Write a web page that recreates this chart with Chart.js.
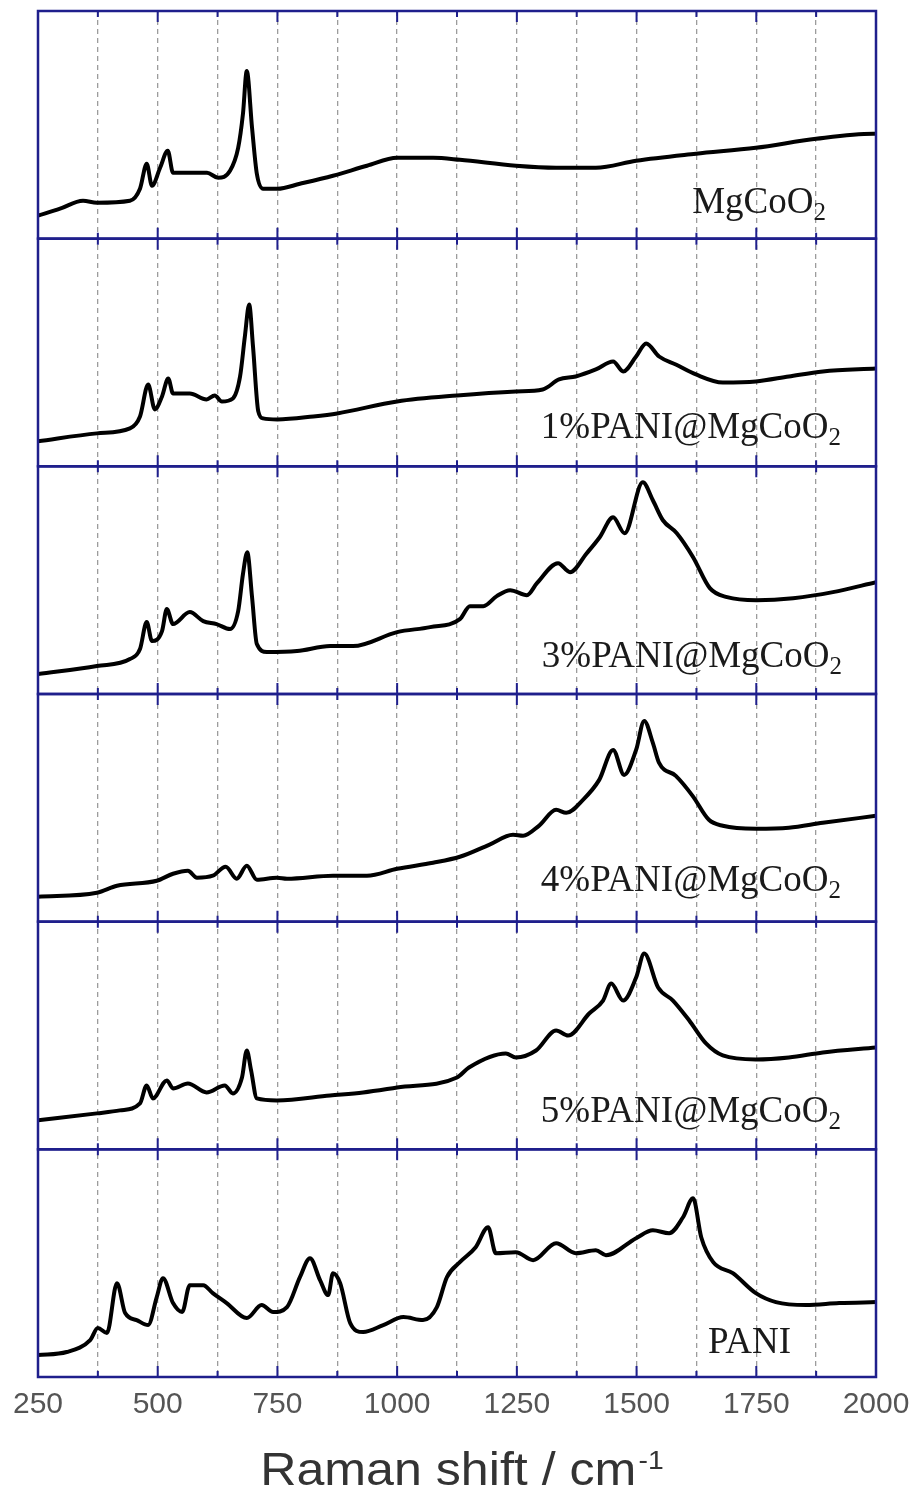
<!DOCTYPE html>
<html>
<head>
<meta charset="utf-8">
<script src="https://cdn.jsdelivr.net/npm/chart.js@4.4.0/dist/chart.umd.min.js"></script>
<style>
  html, body { margin: 0; padding: 0; background: #fff; }
  canvas { display: block; }
</style>
</head>
<body>
<canvas id="myChart" width="916" height="1493" style="width:916px;height:1493px"></canvas>
<script>
// Raman spectra, intensity in arbitrary units
var tickLabels = [250, 500, 750, 1000, 1250, 1500, 1750, 2000];
var panelLabels = ['MgCoO2', '1%PANI@MgCoO2', '3%PANI@MgCoO2', '4%PANI@MgCoO2', '5%PANI@MgCoO2', 'PANI'];

var mgcoWn  = [250, 296, 344, 373, 442, 463, 477, 488, 505, 521, 532, 567, 603, 626, 651, 668, 678, 686, 697, 707, 720, 750, 797, 866, 937, 1000, 1075, 1131, 1248, 1332, 1415, 1499, 1624, 1749, 1875, 1994, 2000];
var mgcoInt = [23, 30, 38, 36, 38, 50, 75, 53, 71, 88, 66, 66, 66, 61, 68, 91, 125, 168, 111, 65, 50, 50, 55, 63, 73, 81, 81, 79, 73, 71, 71, 78, 85, 91, 100, 105, 105];

var p1Wn  = [250, 373, 442, 463, 480, 494, 509, 522, 532, 567, 602, 619, 634, 657, 672, 682, 691, 699, 710, 720, 750, 825, 875, 1000, 1125, 1248, 1304, 1338, 1373, 1415, 1451, 1472, 1499, 1520, 1547, 1582, 1624, 1680, 1749, 1818, 1889, 2000];
var p1Int = [25, 33, 38, 50, 82, 57, 70, 88, 73, 73, 67, 71, 65, 68, 90, 130, 162, 120, 55, 48, 47, 50, 53, 65, 71, 75, 77, 87, 90, 97, 105, 95, 110, 123, 110, 102, 92, 84, 85, 90, 95, 98];

var p3Wn  = [250, 373, 442, 463, 477, 488, 509, 519, 532, 567, 595, 623, 651, 668, 678, 687, 697, 707, 728, 791, 860, 908, 1000, 1069, 1131, 1152, 1180, 1208, 1236, 1271, 1292, 1336, 1361, 1396, 1423, 1451, 1475, 1513, 1534, 1555, 1584, 1618, 1653, 1689, 1751, 1827, 1910, 2000];
var p3Int = [20, 28, 35, 45, 72, 53, 63, 85, 70, 82, 73, 70, 65, 83, 120, 142, 97, 50, 42, 43, 48, 48, 62, 67, 75, 88, 88, 98, 104, 99, 111, 131, 122, 141, 157, 177, 161, 212, 194, 174, 161, 137, 106, 97, 94, 96, 102, 112];

var p4Wn  = [250, 373, 415, 498, 532, 563, 582, 615, 642, 665, 686, 707, 749, 770, 866, 937, 1000, 1075, 1131, 1192, 1242, 1263, 1296, 1332, 1353, 1388, 1422, 1451, 1474, 1499, 1516, 1534, 1547, 1582, 1617, 1651, 1680, 1749, 1818, 1889, 2000];
var p4Int = [25, 29, 36, 41, 48, 51, 44, 46, 55, 43, 56, 42, 44, 43, 46, 46, 53, 59, 65, 77, 87, 86, 96, 112, 109, 122, 142, 172, 147, 172, 201, 179, 159, 146, 126, 102, 96, 93, 94, 99, 106];

var p5Wn  = [250, 373, 421, 463, 477, 490, 519, 532, 563, 602, 640, 657, 676, 686, 695, 707, 749, 860, 929, 1000, 1125, 1150, 1227, 1248, 1290, 1332, 1357, 1401, 1430, 1447, 1472, 1499, 1516, 1545, 1576, 1610, 1645, 1680, 1749, 1818, 1889, 2000];
var p5Int = [29, 36, 39, 46, 64, 51, 69, 61, 66, 57, 64, 56, 72, 99, 79, 51, 49, 54, 57, 62, 72, 82, 96, 92, 99, 119, 114, 136, 149, 166, 149, 172, 196, 162, 149, 129, 106, 94, 90, 92, 97, 102];

var paniWn  = [250, 310, 359, 375, 394, 415, 432, 456, 480, 498, 511, 532, 551, 567, 595, 615, 644, 686, 717, 741, 770, 797, 818, 839, 856, 866, 881, 902, 929, 971, 1013, 1054, 1083, 1104, 1131, 1164, 1190, 1206, 1248, 1284, 1332, 1373, 1415, 1436, 1499, 1534, 1568, 1597, 1618, 1635, 1660, 1701, 1749, 1791, 1854, 1923, 2000];
var paniInt = [22, 25, 37, 49, 44, 94, 64, 57, 52, 80, 99, 74, 65, 92, 92, 84, 74, 59, 72, 65, 70, 100, 119, 97, 82, 104, 94, 54, 45, 52, 60, 57, 70, 100, 115, 130, 150, 124, 125, 117, 134, 124, 127, 122, 139, 147, 144, 160, 179, 140, 115, 104, 84, 75, 72, 74, 75];

var spectra = [[mgcoWn, mgcoInt], [p1Wn, p1Int], [p3Wn, p3Int], [p4Wn, p4Int], [p5Wn, p5Int], [paniWn, paniInt]];

// posicao dos rotulos: distancia da borda direita e da base de cada painel (px)
var labelRight = [50, 35, 34, 35, 35, 85];
var labelBase = [26, 28, 27, 31, 27, 24];

var navy = '#1f1f8c';

var datasets = [];
var scales = {
  x: {
    type: 'linear',
    position: 'bottom',
    min: 250,
    max: 2000,
    ticks: {
      stepSize: 125,
      autoSkip: false,
      maxRotation: 0,
      padding: 10,
      color: '#555',
      font: { family: "'Liberation Sans', Arial, sans-serif", size: 30 },
      callback: function(v) { return tickLabels.indexOf(v) >= 0 ? String(v) : ''; }
    },
    grid: { color: '#9c9c9c', lineWidth: 1.3, drawTicks: false },
    border: { display: false, dash: [5, 4] },
    afterFit: function(s) {
      s.height = 116;
      // o layout usa so o padding definido abaixo
      s.paddingLeft = 0;
      s.paddingRight = 0;
    }
  }
};

spectra.forEach(function(s, i) {
  datasets.push({
    label: panelLabels[i],
    data: s[0].map(function(x, k) { return { x: x, y: s[1][k] }; }),
    yAxisID: 'y' + i,
    borderColor: '#000',
    borderWidth: 4,
    borderJoinStyle: 'round',
    borderCapStyle: 'round',
    pointRadius: 0,
    cubicInterpolationMode: 'monotone',
    fill: false
  });
  scales['y' + i] = {
    type: 'linear',
    position: 'right',
    stack: 'panels',
    stackWeight: 1,
    min: 0,
    max: 228,
    display: false
  };
});

// desenhar bordas, ticks, rotulos e titulo
var panelsPlugin = {
  id: 'panels',
  afterDatasetsDraw: function(chart) {
    var ctx = chart.ctx;
    var xs = chart.scales.x;
    ctx.save();
    for (var i = 0; i < panelLabels.length; i++) {
      var ys = chart.scales['y' + i];
      ctx.strokeStyle = navy;
      ctx.lineWidth = 2.5;
      ctx.strokeRect(xs.left, ys.top, xs.right - xs.left, ys.bottom - ys.top);
      ctx.lineWidth = 2;
      xs.ticks.forEach(function(t) {
        var px = xs.getPixelForValue(t.value);
        var len = tickLabels.indexOf(t.value) >= 0 ? 11 : 6;
        ctx.beginPath();
        ctx.moveTo(px, ys.top); ctx.lineTo(px, ys.top + len);
        ctx.moveTo(px, ys.bottom); ctx.lineTo(px, ys.bottom - len);
        ctx.stroke();
      });

      // rotulo com subscrito
      var txt = panelLabels[i];
      var main = txt, sub = '';
      if (/O2$/.test(txt)) { main = txt.slice(0, -1); sub = '2'; }
      ctx.fillStyle = '#1a1a1a';
      ctx.textBaseline = 'alphabetic';
      ctx.textAlign = 'left';
      ctx.font = "37px 'Liberation Serif', 'Times New Roman', serif";
      var wMain = ctx.measureText(main).width;
      ctx.font = "25px 'Liberation Serif', 'Times New Roman', serif";
      var wSub = sub ? ctx.measureText(sub).width : 0;
      var right = xs.right - labelRight[i];
      var base = ys.bottom - labelBase[i];
      var x0 = right - wMain - wSub;
      ctx.font = "37px 'Liberation Serif', 'Times New Roman', serif";
      ctx.fillText(main, x0, base);
      if (sub) {
        ctx.font = "25px 'Liberation Serif', 'Times New Roman', serif";
        ctx.fillText(sub, x0 + wMain, base + 7);
      }
    }

    // titulo do eixo x
    var t1 = 'Raman shift / cm', t2 = '-1';
    var sx = 1.09;
    ctx.fillStyle = '#333';
    ctx.font = "46px 'Liberation Sans', Arial, sans-serif";
    var w1 = ctx.measureText(t1).width;
    ctx.font = "26px 'Liberation Sans', Arial, sans-serif";
    var w2 = ctx.measureText(t2).width;
    var total = (w1 + 2 + w2) * sx;
    var cx = 462;
    ctx.translate(cx - total / 2, 1485);
    ctx.scale(sx, 1);
    ctx.font = "46px 'Liberation Sans', Arial, sans-serif";
    ctx.fillText(t1, 0, 0);
    ctx.font = "26px 'Liberation Sans', Arial, sans-serif";
    ctx.fillText(t2, w1 + 2, -16);
    ctx.restore();
  }
};

var ctx = document.getElementById('myChart').getContext('2d');
var chart = new Chart(ctx, {
  type: 'line',
  data: { datasets: datasets },
  options: {
    responsive: false,
    animation: false,
    layout: { padding: { left: 38, right: 40, top: 11, bottom: 0 } },
    scales: scales,
    plugins: {
      legend: { display: false },
      tooltip: { enabled: false },
      title: { display: false }
    }
  },
  plugins: [panelsPlugin]
});
</script>
</body>
</html>
